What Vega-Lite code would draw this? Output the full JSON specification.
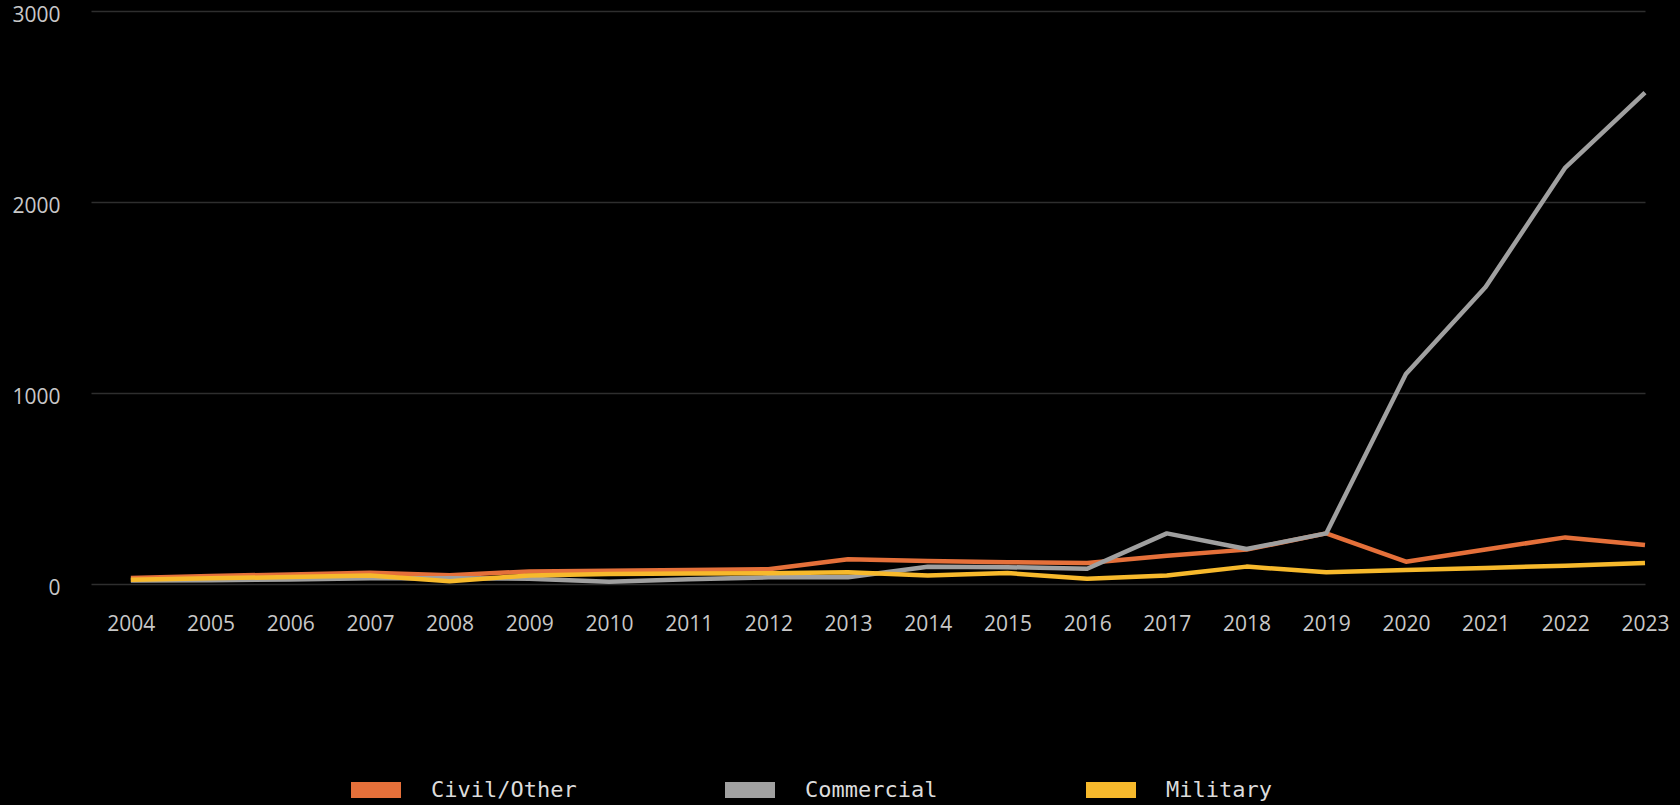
{
  "$schema": "https://vega.github.io/schema/vega-lite/v6.json",
  "autosize": {"type": "none"},
  "width": 1554,
  "height": 573,
  "padding": {"left": 91, "top": 11, "right": 35, "bottom": 221},
  "background": "#000000",
  "config": {
    "view": {"stroke": null},
    "axis": {"labelFont": "Open Sans", "labelFontSize": 21, "labelColor": "#c8c8c8", "domain": false, "ticks": false, "tickSize": 0, "gridColor": "#2e2e2e", "gridWidth": 1.5, "title": null}
  },
  "data": {
    "values": [
      {"year": 2004, "sector": "Civil/Other", "value": 32},
      {"year": 2005, "sector": "Civil/Other", "value": 42},
      {"year": 2006, "sector": "Civil/Other", "value": 50},
      {"year": 2007, "sector": "Civil/Other", "value": 59},
      {"year": 2008, "sector": "Civil/Other", "value": 46},
      {"year": 2009, "sector": "Civil/Other", "value": 66},
      {"year": 2010, "sector": "Civil/Other", "value": 70},
      {"year": 2011, "sector": "Civil/Other", "value": 73},
      {"year": 2012, "sector": "Civil/Other", "value": 77},
      {"year": 2013, "sector": "Civil/Other", "value": 130},
      {"year": 2014, "sector": "Civil/Other", "value": 120},
      {"year": 2015, "sector": "Civil/Other", "value": 114},
      {"year": 2016, "sector": "Civil/Other", "value": 110},
      {"year": 2017, "sector": "Civil/Other", "value": 148},
      {"year": 2018, "sector": "Civil/Other", "value": 180},
      {"year": 2019, "sector": "Civil/Other", "value": 265},
      {"year": 2020, "sector": "Civil/Other", "value": 117},
      {"year": 2021, "sector": "Civil/Other", "value": 181},
      {"year": 2022, "sector": "Civil/Other", "value": 244},
      {"year": 2023, "sector": "Civil/Other", "value": 204},
      {"year": 2004, "sector": "Commercial", "value": 18},
      {"year": 2005, "sector": "Commercial", "value": 20},
      {"year": 2006, "sector": "Commercial", "value": 24},
      {"year": 2007, "sector": "Commercial", "value": 30},
      {"year": 2008, "sector": "Commercial", "value": 30},
      {"year": 2009, "sector": "Commercial", "value": 28},
      {"year": 2010, "sector": "Commercial", "value": 12},
      {"year": 2011, "sector": "Commercial", "value": 25},
      {"year": 2012, "sector": "Commercial", "value": 35},
      {"year": 2013, "sector": "Commercial", "value": 35},
      {"year": 2014, "sector": "Commercial", "value": 90},
      {"year": 2015, "sector": "Commercial", "value": 88},
      {"year": 2016, "sector": "Commercial", "value": 80},
      {"year": 2017, "sector": "Commercial", "value": 265},
      {"year": 2018, "sector": "Commercial", "value": 183},
      {"year": 2019, "sector": "Commercial", "value": 265},
      {"year": 2020, "sector": "Commercial", "value": 1100},
      {"year": 2021, "sector": "Commercial", "value": 1555},
      {"year": 2022, "sector": "Commercial", "value": 2180},
      {"year": 2023, "sector": "Commercial", "value": 2573},
      {"year": 2004, "sector": "Military", "value": 22},
      {"year": 2005, "sector": "Military", "value": 30},
      {"year": 2006, "sector": "Military", "value": 36},
      {"year": 2007, "sector": "Military", "value": 44},
      {"year": 2008, "sector": "Military", "value": 15},
      {"year": 2009, "sector": "Military", "value": 45},
      {"year": 2010, "sector": "Military", "value": 52},
      {"year": 2011, "sector": "Military", "value": 55},
      {"year": 2012, "sector": "Military", "value": 56},
      {"year": 2013, "sector": "Military", "value": 61},
      {"year": 2014, "sector": "Military", "value": 45},
      {"year": 2015, "sector": "Military", "value": 57},
      {"year": 2016, "sector": "Military", "value": 28},
      {"year": 2017, "sector": "Military", "value": 44},
      {"year": 2018, "sector": "Military", "value": 91},
      {"year": 2019, "sector": "Military", "value": 61},
      {"year": 2020, "sector": "Military", "value": 73},
      {"year": 2021, "sector": "Military", "value": 84},
      {"year": 2022, "sector": "Military", "value": 96},
      {"year": 2023, "sector": "Military", "value": 110}
    ]
  },
  "mark": {"type": "line", "strokeWidth": 4.5, "strokeJoin": "round"},
  "encoding": {
    "x": {
      "field": "year",
      "type": "quantitative",
      "scale": {"domain": [2003.5, 2023], "nice": false, "zero": false},
      "axis": {"values": [2004,2005,2006,2007,2008,2009,2010,2011,2012,2013,2014,2015,2016,2017,2018,2019,2020,2021,2022,2023], "format": "d", "labelPadding": 29, "labelFlush": false, "labelOverlap": false, "grid": false}
    },
    "y": {
      "field": "value",
      "type": "quantitative",
      "scale": {"domain": [0, 3000], "nice": false},
      "axis": {"values": [0, 1000, 2000, 3000], "format": "d", "labelPadding": 31, "labelOffset": 4, "grid": true}
    },
    "color": {
      "field": "sector",
      "type": "nominal",
      "scale": {"domain": ["Civil/Other", "Commercial", "Military"], "range": ["#e5703a", "#a0a0a0", "#f7b92c"]},
      "legend": {
        "title": null,
        "orient": "none",
        "legendX": 260,
        "legendY": 754,
        "direction": "horizontal",
        "symbolType": "M-1,-0.32H1V0.32H-1Z",
        "symbolSize": 2500,
        "symbolStrokeWidth": 0,
        "labelFont": "DejaVu Sans Mono",
        "labelFontSize": 22,
        "labelColor": "#dcdcdc",
        "labelOffset": 30,
        "columnPadding": 148,
        "encode": {
          "symbols": {"update": {"fill": {"scale": "color", "field": "value"}, "fillOpacity": {"value": 1}, "strokeWidth": {"value": 0}}}
        }
      }
    }
  }
}
